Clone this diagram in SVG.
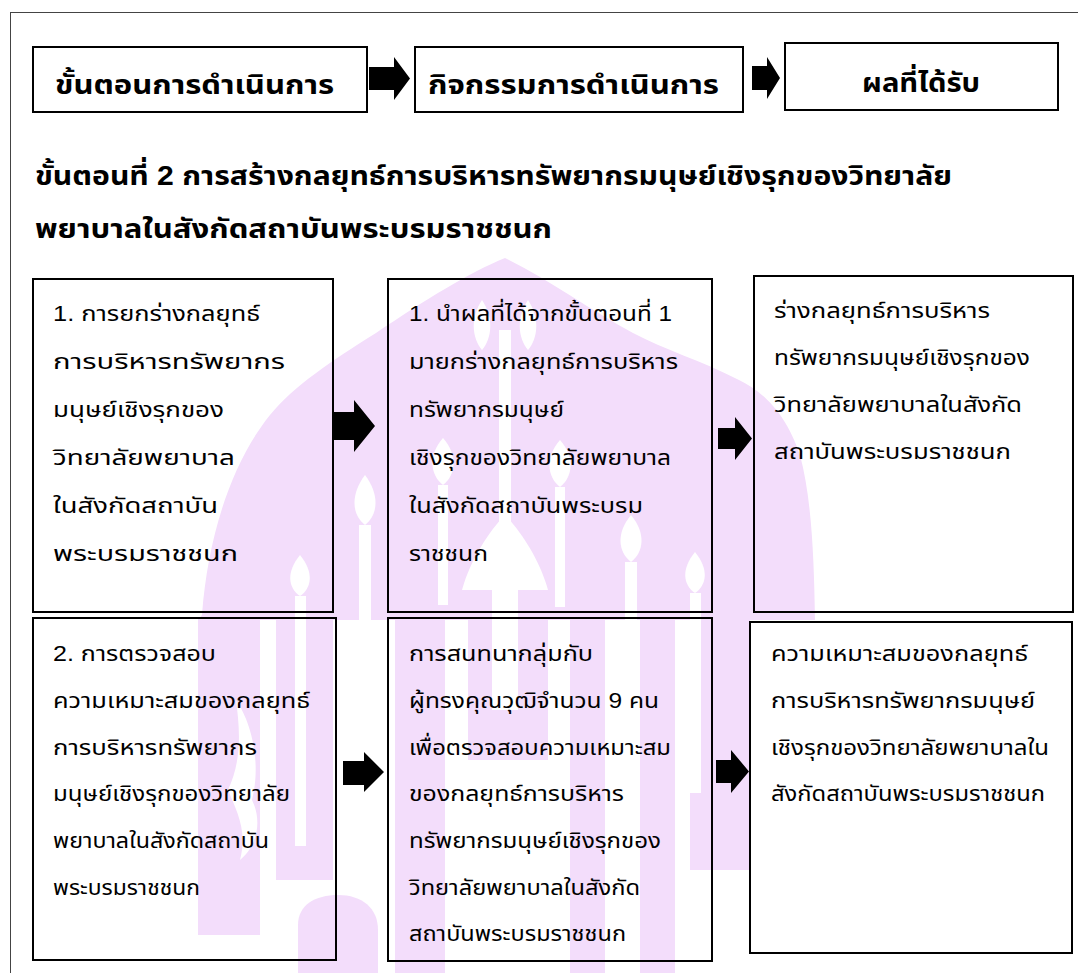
<svg xmlns="http://www.w3.org/2000/svg" width="1078" height="973" viewBox="0 0 1078 973">
  <style>
    .frame { fill: none; stroke: #444; stroke-width: 1; }
    .box { fill: none; stroke: #000; stroke-width: 2; }
    .hd { font-family: "Liberation Sans", "Noto Sans Thai", "DejaVu Sans", sans-serif; font-weight: bold; font-size: 27px; fill: #000; }
    .tt { font-family: "Liberation Sans", "Noto Sans Thai", "DejaVu Sans", sans-serif; font-weight: bold; font-size: 27px; fill: #000; }
    .bd { font-family: "Liberation Sans", "Noto Sans Thai", "DejaVu Sans", sans-serif; font-size: 22px; fill: #000; }
    .wm { fill: #f3ddfb; }
    .wmw { fill: #fff; }
    .arr { fill: #000; }
  </style>

  <rect width="1078" height="973" fill="#fff"/>

  <!-- background emblem: arch with candles -->
  <g id="emblem">
    <path class="wm" d="M505 258 C470 272 425 300 376 333 C330 362 295 385 270 415 C232 462 208 535 202 615 L198 620 L815 620 C814 560 812 500 800 455 C785 410 760 390 739 380 C700 360 665 350 633 333 C590 310 550 280 505 258 Z"/>
    <!-- lower bands -->
    <rect class="wm" x="198" y="618" width="62" height="317"/>
    <rect class="wm" x="276" y="618" width="57" height="262"/>
    <path class="wm" d="M298 973 V925 C298 905 315 895 338 895 C362 895 378 908 378 930 V973 Z"/>
    <rect class="wm" x="395" y="618" width="50" height="355"/>
    <rect class="wm" x="468" y="618" width="80" height="142"/>
    <rect class="wm" x="570" y="618" width="35" height="355"/>
    <rect class="wm" x="640" y="618" width="35" height="355"/>
    <rect class="wm" x="690" y="618" width="60" height="252"/>
    <!-- candles and lotus buds -->
    <path class="wmw" d="M482 300 C470 318 472 338 482 350 C492 338 494 318 482 300 Z"/>
    <path class="wmw" d="M528 300 C516 318 518 338 528 350 C538 338 540 318 528 300 Z"/>
    <rect class="wmw" x="499" y="330" width="12" height="200"/>
    <path class="wmw" d="M462 590 C470 560 490 530 505 515 C520 530 540 560 548 590 Z"/>
    <rect class="wmw" x="492" y="590" width="26" height="120"/>
    <path class="wmw" d="M443 438 C428 455 430 475 443 485 C456 475 458 455 443 438 Z"/>
    <rect class="wmw" x="438" y="485" width="10" height="120"/>
    <path class="wmw" d="M560 440 C545 457 547 477 560 487 C573 477 575 457 560 440 Z"/>
    <rect class="wmw" x="555" y="487" width="10" height="120"/>
    <path class="wmw" d="M365 475 C350 495 352 515 365 525 C378 515 380 495 365 475 Z"/>
    <rect class="wmw" x="359" y="525" width="12" height="200"/>
    <path class="wmw" d="M631 515 C616 533 618 552 631 562 C644 552 646 533 631 515 Z"/>
    <rect class="wmw" x="625" y="562" width="12" height="160"/>
    <path class="wmw" d="M300 555 C286 572 288 588 300 596 C312 588 314 572 300 555 Z"/>
    <rect class="wmw" x="295" y="596" width="11" height="250"/>
    <path class="wmw" d="M695 552 C681 569 683 585 695 593 C707 585 709 569 695 552 Z"/>
    <rect class="wmw" x="690" y="593" width="11" height="200"/>
    <path class="wmw" d="M236 700 C250 720 262 760 252 800 C262 820 258 845 240 860 C248 830 236 810 228 790 C242 760 240 730 236 700 Z"/>
  </g>

  <rect class="frame" x="10.5" y="12.5" width="1100" height="1000"/>

  <!-- column headers -->
  <g id="hdr-steps">
    <rect class="box" x="33" y="47" width="334" height="65"/>
    <text class="hd" x="55" y="94" textLength="279" lengthAdjust="spacingAndGlyphs">ขั้นตอนการดำเนินการ</text>
  </g>
  <g id="hdr-activities">
    <rect class="box" x="415" y="47" width="328" height="65"/>
    <text class="hd" x="428" y="94" textLength="291" lengthAdjust="spacingAndGlyphs">กิจกรรมการดำเนินการ</text>
  </g>
  <g id="hdr-results">
    <rect class="box" x="785" y="43" width="273" height="67"/>
    <text class="hd" x="862" y="92" textLength="118" lengthAdjust="spacingAndGlyphs">ผลที่ได้รับ</text>
  </g>

  <g id="title">
    <text class="tt" x="35" y="185" textLength="917" lengthAdjust="spacingAndGlyphs">ขั้นตอนที่ 2 การสร้างกลยุทธ์การบริหารทรัพยากรมนุษย์เชิงรุกของวิทยาลัย</text>
    <text class="tt" x="35" y="238" textLength="517" lengthAdjust="spacingAndGlyphs">พยาบาลในสังกัดสถาบันพระบรมราชชนก</text>
  </g>

  <!-- row 1 -->
  <g id="step-draft">
    <rect class="box" x="33" y="279" width="300" height="333"/>
    <text class="bd" x="53" y="321" textLength="207" lengthAdjust="spacingAndGlyphs">1. การยกร่างกลยุทธ์</text>
    <text class="bd" x="53" y="369" textLength="232" lengthAdjust="spacingAndGlyphs">การบริหารทรัพยากร</text>
    <text class="bd" x="53" y="417" textLength="171" lengthAdjust="spacingAndGlyphs">มนุษย์เชิงรุกของ</text>
    <text class="bd" x="53" y="465" textLength="182" lengthAdjust="spacingAndGlyphs">วิทยาลัยพยาบาล</text>
    <text class="bd" x="53" y="513" textLength="165" lengthAdjust="spacingAndGlyphs">ในสังกัดสถาบัน</text>
    <text class="bd" x="53" y="561" textLength="185" lengthAdjust="spacingAndGlyphs">พระบรมราชชนก</text>
  </g>
  <g id="activity-draft">
    <rect class="box" x="388" y="279" width="324" height="333"/>
    <text class="bd" x="409" y="321" textLength="263" lengthAdjust="spacingAndGlyphs">1. นำผลที่ได้จากขั้นตอนที่ 1</text>
    <text class="bd" x="409" y="369" textLength="269" lengthAdjust="spacingAndGlyphs">มายกร่างกลยุทธ์การบริหาร</text>
    <text class="bd" x="409" y="417" textLength="155" lengthAdjust="spacingAndGlyphs">ทรัพยากรมนุษย์</text>
    <text class="bd" x="409" y="465" textLength="262" lengthAdjust="spacingAndGlyphs">เชิงรุกของวิทยาลัยพยาบาล</text>
    <text class="bd" x="409" y="513" textLength="234" lengthAdjust="spacingAndGlyphs">ในสังกัดสถาบันพระบรม</text>
    <text class="bd" x="409" y="561" textLength="79" lengthAdjust="spacingAndGlyphs">ราชชนก</text>
  </g>
  <g id="result-draft">
    <rect class="box" x="754" y="276" width="319" height="336"/>
    <text class="bd" x="774" y="318" textLength="216" lengthAdjust="spacingAndGlyphs">ร่างกลยุทธ์การบริหาร</text>
    <text class="bd" x="774" y="365" textLength="256" lengthAdjust="spacingAndGlyphs">ทรัพยากรมนุษย์เชิงรุกของ</text>
    <text class="bd" x="774" y="412" textLength="248" lengthAdjust="spacingAndGlyphs">วิทยาลัยพยาบาลในสังกัด</text>
    <text class="bd" x="774" y="459" textLength="237" lengthAdjust="spacingAndGlyphs">สถาบันพระบรมราชชนก</text>
  </g>

  <!-- row 2 -->
  <g id="step-verify">
    <rect class="box" x="33" y="618" width="303" height="342"/>
    <text class="bd" x="53" y="661" textLength="163" lengthAdjust="spacingAndGlyphs">2. การตรวจสอบ</text>
    <text class="bd" x="53" y="708" textLength="257" lengthAdjust="spacingAndGlyphs">ความเหมาะสมของกลยุทธ์</text>
    <text class="bd" x="53" y="755" textLength="204" lengthAdjust="spacingAndGlyphs">การบริหารทรัพยากร</text>
    <text class="bd" x="53" y="801" textLength="237" lengthAdjust="spacingAndGlyphs">มนุษย์เชิงรุกของวิทยาลัย</text>
    <text class="bd" x="53" y="848" textLength="216" lengthAdjust="spacingAndGlyphs">พยาบาลในสังกัดสถาบัน</text>
    <text class="bd" x="53" y="895" textLength="147" lengthAdjust="spacingAndGlyphs">พระบรมราชชนก</text>
  </g>
  <g id="activity-verify">
    <rect class="box" x="388" y="618" width="324" height="343"/>
    <text class="bd" x="409" y="661" textLength="184" lengthAdjust="spacingAndGlyphs">การสนทนากลุ่มกับ</text>
    <text class="bd" x="409" y="708" textLength="250" lengthAdjust="spacingAndGlyphs">ผู้ทรงคุณวุฒิจำนวน 9 คน</text>
    <text class="bd" x="409" y="755" textLength="262" lengthAdjust="spacingAndGlyphs">เพื่อตรวจสอบความเหมาะสม</text>
    <text class="bd" x="409" y="801" textLength="215" lengthAdjust="spacingAndGlyphs">ของกลยุทธ์การบริหาร</text>
    <text class="bd" x="409" y="848" textLength="252" lengthAdjust="spacingAndGlyphs">ทรัพยากรมนุษย์เชิงรุกของ</text>
    <text class="bd" x="409" y="895" textLength="231" lengthAdjust="spacingAndGlyphs">วิทยาลัยพยาบาลในสังกัด</text>
    <text class="bd" x="409" y="941" textLength="217" lengthAdjust="spacingAndGlyphs">สถาบันพระบรมราชชนก</text>
  </g>
  <g id="result-verify">
    <rect class="box" x="750" y="622" width="322" height="331"/>
    <text class="bd" x="771" y="661" textLength="257" lengthAdjust="spacingAndGlyphs">ความเหมาะสมของกลยุทธ์</text>
    <text class="bd" x="771" y="708" textLength="264" lengthAdjust="spacingAndGlyphs">การบริหารทรัพยากรมนุษย์</text>
    <text class="bd" x="771" y="755" textLength="278" lengthAdjust="spacingAndGlyphs">เชิงรุกของวิทยาลัยพยาบาลใน</text>
    <text class="bd" x="771" y="801" textLength="274" lengthAdjust="spacingAndGlyphs">สังกัดสถาบันพระบรมราชชนก</text>
  </g>

  <!-- block arrows -->
  <g id="connectors">
    <path class="arr" d="M369 67 H394 V57 L410 78.5 L394 100 V90 H369 Z"/>
    <path class="arr" d="M752 66 H767 V57 L780 78 L767 99 V90 H752 Z"/>
    <path class="arr" d="M334 412 H354 V400 L375 426 L354 452 V440 H334 Z"/>
    <path class="arr" d="M718 428 H735 V417 L752 438.5 L735 460 V449 H718 Z"/>
    <path class="arr" d="M343 761 H364 V752 L384 772 L364 792 V785 H343 Z"/>
    <path class="arr" d="M716 760 H731 V750 L749 771.5 L731 793 V783 H716 Z"/>
  </g>
</svg>
